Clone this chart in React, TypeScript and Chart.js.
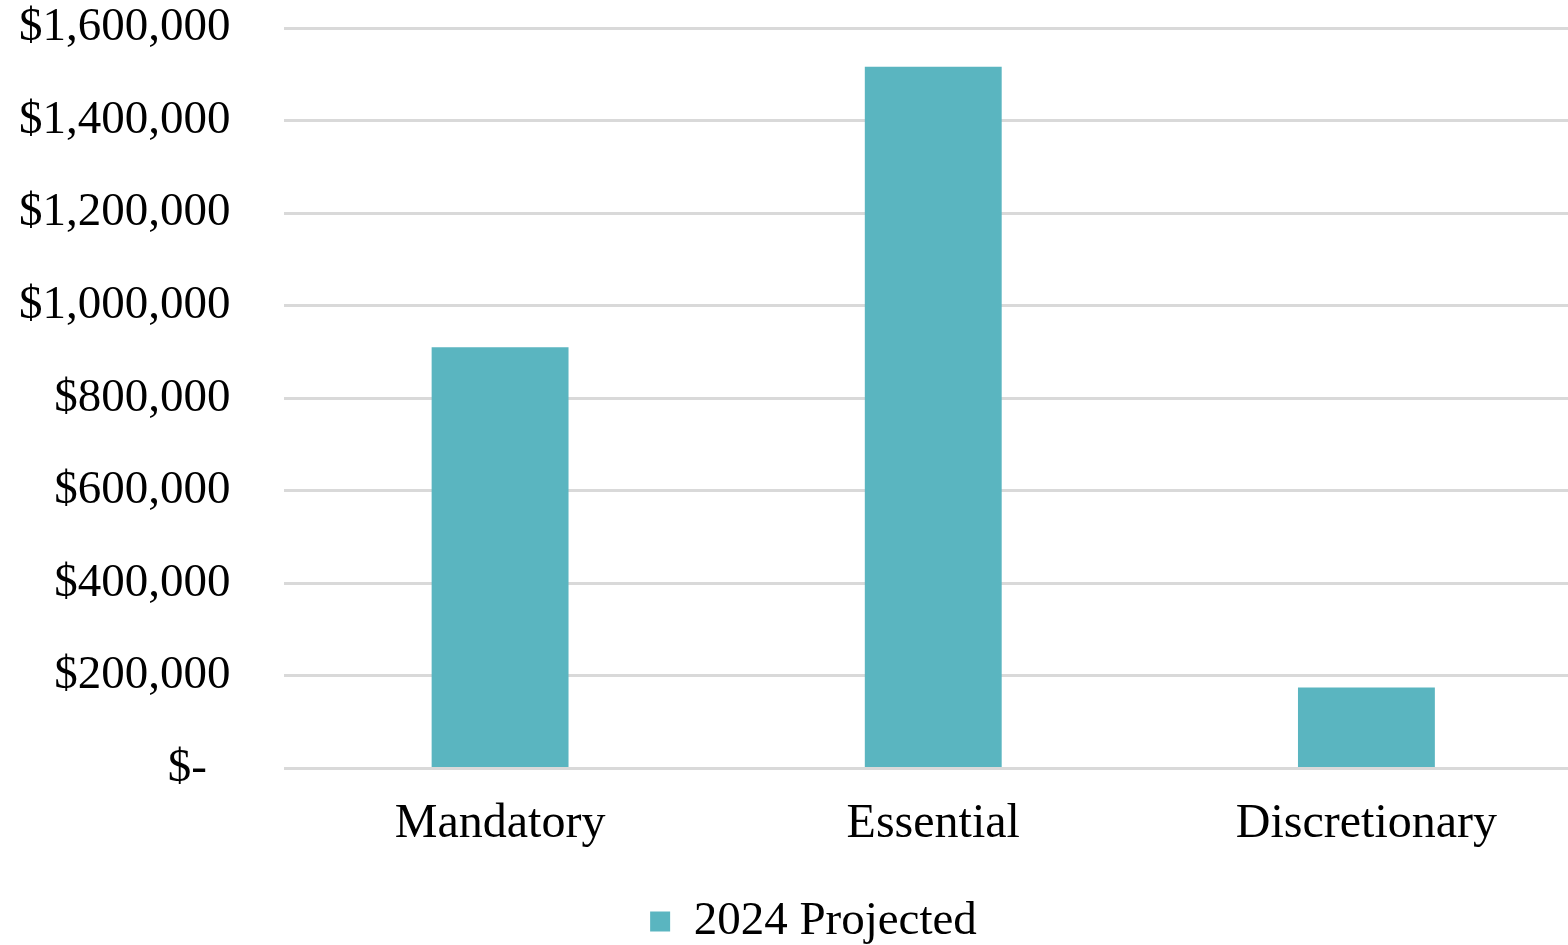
import React, { useEffect, useRef } from "react";
import { Chart, registerables } from "chart.js";

Chart.register(...registerables);

const categories = ["Mandatory", "Essential", "Discretionary"];
const seriesLabel = "2024 Projected";
const projected2024 = [910000, 1516000, 175000];
const yMin = 0;
const yMax = 1600000;
const yStep = 200000;

const FONT = "'Liberation Serif', 'Times New Roman', serif";
const BAR_COLOR = "#5AB5C0";

function formatTick(v: number): string {
  if (v === 0) return "$-  ";
  return "$" + v.toLocaleString("en-US");
}

const legendShift = {
  id: "legendShift",
  afterLayout(chart: any) {
    const lg = chart.legend;
    if (!lg) return;
    lg.left += 44;
    lg.top += 10;
    lg.bottom += 10;
  },
};

export default function App() {
  const ref = useRef<HTMLCanvasElement | null>(null);

  useEffect(() => {
    if (!ref.current) return;
    const chart = new Chart(ref.current, {
      type: "bar",
      data: {
        labels: categories,
        datasets: [
          {
            label: seriesLabel,
            data: projected2024,
            backgroundColor: BAR_COLOR,
            borderWidth: 0,
            barPercentage: 0.316,
            categoryPercentage: 1,
          },
        ],
      },
      plugins: [legendShift],
      options: {
        animation: false,
        responsive: true,
        maintainAspectRatio: false,
        layout: { padding: { top: 6, right: 0, bottom: 0, left: 0 } },
        plugins: {
          tooltip: { enabled: false },
          legend: {
            position: "bottom",
            labels: {
              color: "#000",
              font: { family: FONT, size: 47 },
              boxWidth: 20,
              boxHeight: 20,
              padding: 3,
            },
          },
        },
        scales: {
          x: {
            grid: { display: false, drawTicks: false },
            border: { display: false },
            ticks: {
              color: "#000",
              font: { family: FONT, size: 48 },
              padding: 27,
              maxRotation: 0,
            },
            afterFit: (scale: any) => {
              scale.height += 5;
            },
          },
          y: {
            min: yMin,
            max: yMax,
            grid: { color: "#d9d9d9", lineWidth: 3, drawTicks: false },
            border: { display: false },
            ticks: {
              stepSize: yStep,
              color: "#000",
              font: { family: FONT, size: 47 },
              padding: 53,
              callback: (v: any) => formatTick(Number(v)),
            },
            afterFit: (scale: any) => {
              scale.width = 283.5;
              scale.paddingTop = 28;
              scale.paddingBottom = 0;
            },
          },
        },
      },
    });
    return () => chart.destroy();
  }, []);

  return (
    <div
      style={{
        position: "fixed",
        left: 0,
        top: 0,
        width: 1568,
        height: 945,
        overflow: "hidden",
        background: "#fff",
      }}
    >
      <div style={{ position: "absolute", left: 0, top: 0, width: 1583, height: 945 }}>
        <canvas ref={ref} />
      </div>
    </div>
  );
}
